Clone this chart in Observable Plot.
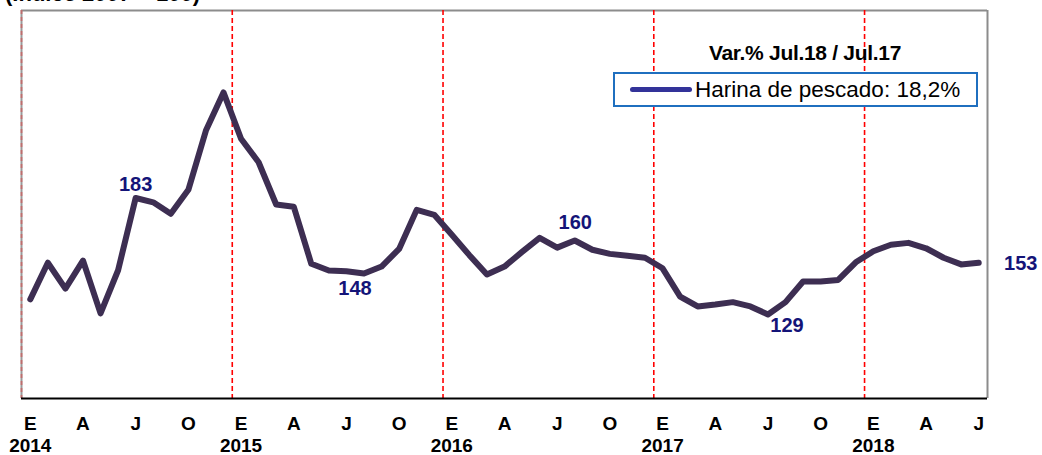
<!DOCTYPE html>
<html>
<head>
<meta charset="utf-8">
<script src="https://cdn.jsdelivr.net/npm/d3@7"></script>
<script src="https://cdn.jsdelivr.net/npm/@observablehq/plot@0.6"></script>
<style>
  html, body { margin: 0; padding: 0; background: #fff; }
  #wrap { position: relative; width: 1042px; height: 455px; overflow: hidden; font-family: "Liberation Sans", Arial, sans-serif; }
  #wrap svg { position: absolute; left: 0; top: 0; }
  #wrap svg text { font-weight: bold; }
  .unit { position: absolute; left: 5px; top: -17px; font-size: 22px; font-weight: bold; line-height: 22px; white-space: nowrap; color: #000; z-index: 2; }
  .vtitle { position: absolute; left: 695px; width: 220px; top: 42px; font-size: 21px; line-height: 21px; font-weight: bold; text-align: center; white-space: nowrap; color: #000; letter-spacing: -0.3px; z-index: 2; }
  .legend { position: absolute; left: 613px; top: 72px; width: 365px; height: 35px; box-sizing: border-box; border: 2px solid #1f6fbf; background: #fff; display: flex; align-items: center; z-index: 2; }
  .legend .sw { width: 62px; height: 5px; border-radius: 3px; background: #333399; margin-left: 15px; margin-right: 3px; flex: none; }
  .legend .lt { font-size: 22.5px; line-height: 22px; color: #000; white-space: nowrap; }
</style>
</head>
<body>
<div id="wrap"></div>
<script>
// Monthly index, January 2014 to July 2018
const monthLetters = ["E","F","M","A","M","J","J","A","S","O","N","D"];
const years = [2014, 2015, 2016, 2017, 2018];
const values = [
  136, 153, 141, 154, 129.5, 149.5, 183, 181, 175.7, 186.8, 214.3, 232,
  210.5, 199.6, 180, 179, 152.5, 149.4, 149, 148, 151.2, 159.4, 177.5, 175.2,
  166, 156.5, 147.5, 151.2, 158, 164.5, 160, 163.3, 159, 157.1, 156.2, 155.3,
  150.4, 137.3, 132.7, 133.6, 134.7, 132.7, 129, 134.7, 144.3, 144.3, 145, 153.2,
  158.3, 161.3, 162.2, 159.7, 155.3, 152.2, 153
];
const seriesName = "Harina de pescado";
const varPct = "18,2%";
const varTitle = "Var.% Jul.18 / Jul.17";
const unitText = "(Índice 2007 = 100)";
// annotated points: index into values and label text
const annotIdx = [6, 19, 30, 42, 54];
const annotLabels = ["183", "148", "160", "129", "153"];
const annotDx = [0, -9, 18, 19, 42];
const annotDy = [-13, 15, -25, 11, 1];

const data = values.map((v, i) => ({i, v}));
const quarterTicks = d3.range(0, values.length, 3);
const yearTicks = years.map((y, k) => k * 12);
const yearBreaks = years.slice(1).map((y, k) => (k + 1) * 12 - 0.5);
const xMin = -0.5, xMax = values.length - 0.5;

const annotMarks = annotIdx.map((idx, k) =>
  Plot.text([{i: idx, v: values[idx], label: annotLabels[k]}], {
    x: "i", y: "v", text: "label", dx: annotDx[k], dy: annotDy[k],
    fill: "#141478", fontSize: 20, fontWeight: "bold"
  })
);

const chart = Plot.plot({
  width: 1042,
  height: 455,
  marginLeft: 21,
  marginRight: 55,
  marginTop: 10,
  marginBottom: 57,
  style: {fontFamily: "'Liberation Sans', Arial, sans-serif", fontSize: "19px", color: "#000", background: "#fff", overflow: "visible"},
  x: {domain: [xMin, xMax], axis: null},
  y: {domain: [90, 270], axis: null},
  marks: [
    Plot.ruleY([270], {stroke: "#8c8c8c", strokeWidth: 2}),
    Plot.ruleX([xMax], {stroke: "#8c8c8c", strokeWidth: 2}),
    Plot.ruleX([xMin], {stroke: "#9a9a9a", strokeWidth: 2}),
    Plot.ruleX([xMin], {stroke: "#e04040", strokeWidth: 2, strokeDasharray: "4,3", strokeOpacity: 0.5}),
    Plot.ruleX(yearBreaks, {stroke: "#ff0000", strokeWidth: 1.6, strokeDasharray: "5,3"}),
    Plot.ruleY([90], {stroke: "#000", strokeWidth: 2}),
    Plot.line(data, {x: "i", y: "v", stroke: "#3d2e52", strokeWidth: 6, strokeLinejoin: "round", strokeLinecap: "round"}),
    ...annotMarks,
    Plot.axisX(quarterTicks, {tickSize: 0, tickPadding: 18, tickFormat: i => monthLetters[i % 12], fontSize: 19, fontWeight: "bold", label: null}),
    Plot.axisX(yearTicks, {tickSize: 0, tickPadding: 40, tickFormat: i => String(years[i / 12]), fontSize: 19, fontWeight: "bold", label: null})
  ]
});
const wrap = document.getElementById("wrap");
wrap.appendChild(chart);

const unit = document.createElement("div");
unit.className = "unit";
unit.textContent = unitText;
wrap.appendChild(unit);

const vt = document.createElement("div");
vt.className = "vtitle";
vt.textContent = varTitle;
wrap.appendChild(vt);

const lg = document.createElement("div");
lg.className = "legend";
const sw = document.createElement("span");
sw.className = "sw";
const lt = document.createElement("span");
lt.className = "lt";
lt.textContent = `${seriesName}: ${varPct}`;
lg.appendChild(sw);
lg.appendChild(lt);
wrap.appendChild(lg);
</script>
</body>
</html>
